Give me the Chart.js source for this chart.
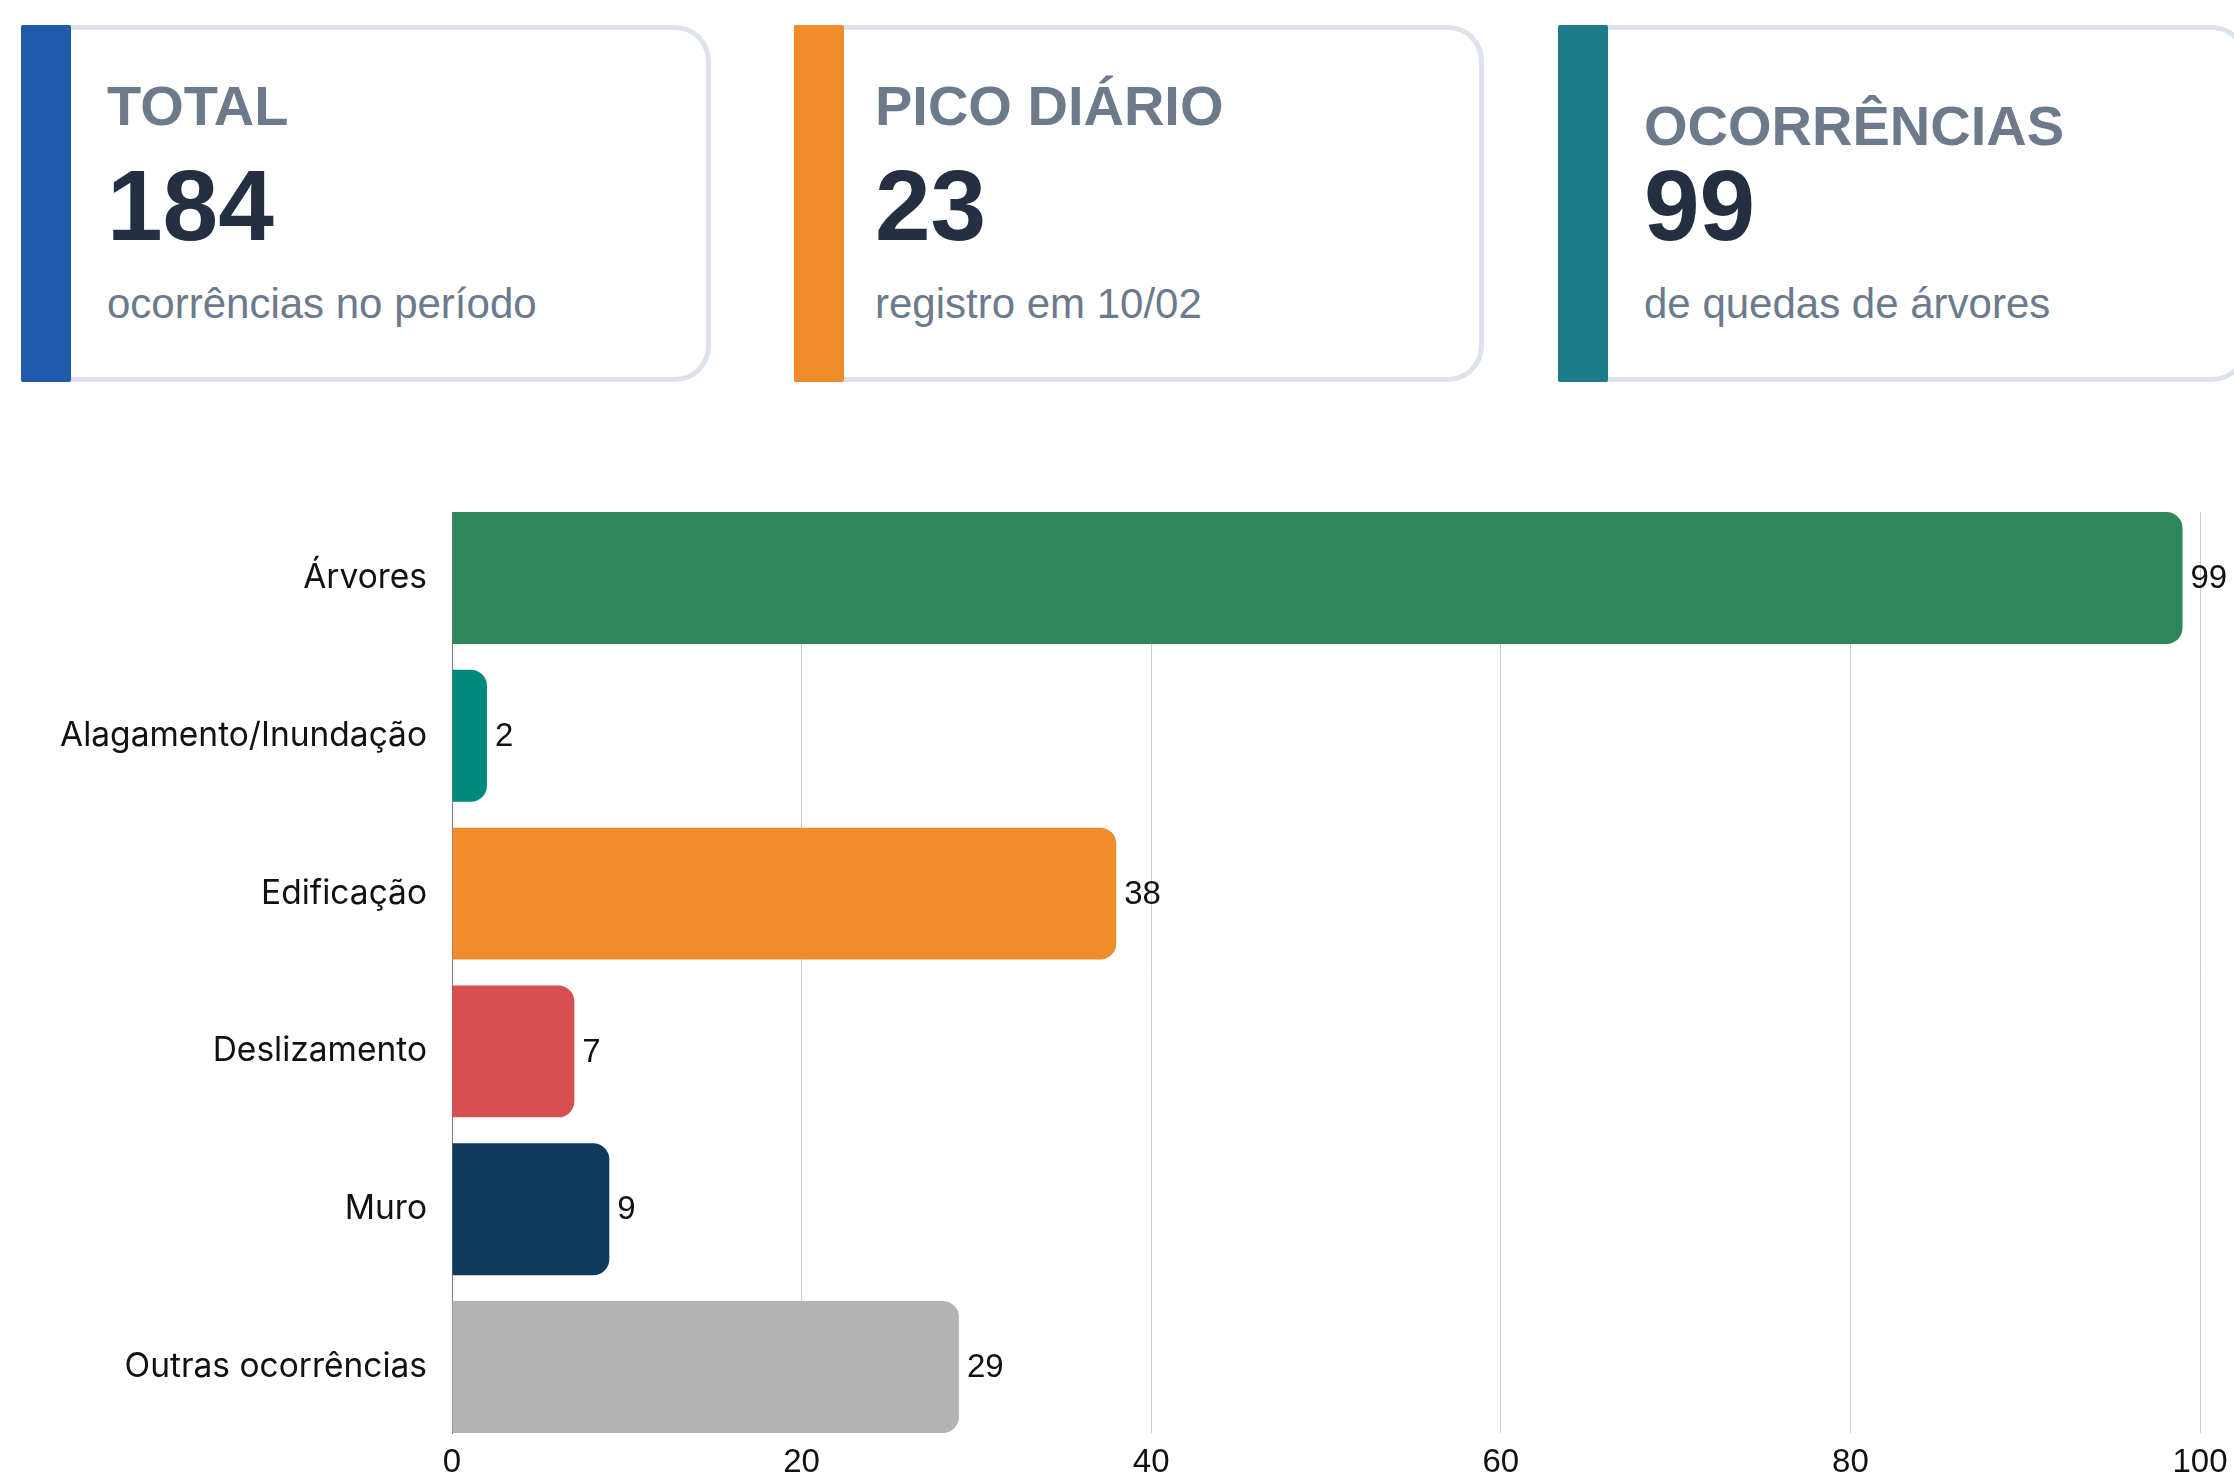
<!DOCTYPE html>
<html>
	<head>
		<meta charset="utf-8">
		<title>Ocorrências</title>
		<script src="https://cdn.jsdelivr.net/npm/chart.js@4.4.0/dist/chart.umd.min.js"></script>
		<style>
			html, body { margin: 0; padding: 0; background: #fff; overflow: hidden; width: 2234px; height: 1481px; }
			body { position: relative; font-family: "Liberation Sans", Arial, sans-serif; }
			.card {
				position: absolute; top: 25px; width: 690px; height: 357px; box-sizing: border-box;
				border: 5px solid #dce3ed; border-left: 0; border-radius: 0 36px 36px 0; background: #fff;
			}
			.card::before {
				content: ""; position: absolute; left: 0; top: -5px; bottom: -5px; width: 50px;
				background: var(--stripe); border-radius: 2px;
			}
			.card .titulo { position: absolute; left: 86px; top: 48px; font-size: 56px; line-height: 1; font-weight: bold; color: #6c7a8b; white-space: nowrap; }
			.card .numero { position: absolute; left: 86px; top: 125px; font-size: 100px; line-height: 1; font-weight: bold; color: #243042; }
			.card .sub { position: absolute; left: 86px; top: 253px; font-size: 42px; line-height: 1; color: #6b7a8c; white-space: nowrap; }
			#c1 { left: 21px; --stripe: #1f5baa; }
			#c2 { left: 794px; --stripe: #f18c2a; }
			#c2 .titulo, #c2 .numero, #c2 .sub { left: 81px; }
			#c3 { left: 1558px; --stripe: #1e7b8a; }
			#c3 .titulo { top: 68px; }
			.chart-box { position: absolute; left: 0; top: 420px; width: 2234px; height: 1061px; }
		</style>
	</head>
	<body>
		<div class="card" id="c1">
			<div class="titulo">TOTAL</div>
			<div class="numero">184</div>
			<div class="sub">ocorrências no período</div>
		</div>
		<div class="card" id="c2">
			<div class="titulo">PICO DIÁRIO</div>
			<div class="numero">23</div>
			<div class="sub">registro em 10/02</div>
		</div>
		<div class="card" id="c3">
			<div class="titulo">OCORRÊNCIAS</div>
			<div class="numero">99</div>
			<div class="sub">de quedas de árvores</div>
		</div>
		<div class="chart-box">
			<canvas id="myChart"></canvas>
		</div>
		<script>
			// dados do gráfico
			const categories = ['Árvores', 'Alagamento/Inundação', 'Edificação', 'Deslizamento', 'Muro', 'Outras ocorrências'];
			const values = [99, 2, 38, 7, 9, 29];
			const barColors = ['#2e865d', '#00897b', '#f18c2a', '#d64f51', '#0f3a5c', '#b3b3b3'];
			const xTicks = [0, 20, 40, 60, 80, 100];

			// rótulos de valor na ponta de cada barra
			const valueLabels = {
				id: 'valueLabels',
				afterDatasetsDraw(chart) {
					const ctx = chart.ctx;
					const meta = chart.getDatasetMeta(0);
					ctx.save();
					ctx.font = '33px "Liberation Sans", Arial, sans-serif';
					ctx.fillStyle = '#111';
					ctx.textAlign = 'left';
					ctx.textBaseline = 'middle';
					meta.data.forEach((bar, i) => {
						ctx.fillText(String(values[i]), bar.x + 8, bar.y + 1);
					});
					ctx.restore();
				}
			};

			var ctx = document.getElementById('myChart').getContext('2d');
			var chart = new Chart(ctx, {
				type: 'bar',
				data: {
					labels: categories,
					datasets: [{
						data: categories.map((c, i) => ({ x: values[i], y: i })),
						backgroundColor: barColors,
						borderRadius: 16,
						borderSkipped: 'start',
						barPercentage: 0.836,
						categoryPercentage: 1
					}]
				},
				options: {
					indexAxis: 'y',
					responsive: true,
					maintainAspectRatio: false,
					animation: false,
					layout: { padding: { top: 92, right: 34, bottom: 0, left: 0 } },
					plugins: {
						legend: { display: false },
						tooltip: { enabled: false }
					},
					scales: {
						x: {
							type: 'linear',
							min: xTicks[0],
							max: xTicks[xTicks.length - 1],
							afterBuildTicks: s => { s.ticks = xTicks.map(v => ({ value: v })); },
							afterFit: s => { s.height = 48; },
							grid: { color: '#cfcfcf', lineWidth: 1, drawTicks: false },
							border: { display: false },
							ticks: {
								padding: 0,
								color: '#111',
								font: { family: '"Liberation Sans", Arial, sans-serif', size: 33, lineHeight: 1.8 }
							}
						},
						y: {
							type: 'linear',
							reverse: true,
							offset: false,
							bounds: 'data',
							min: -0.418,
							max: categories.length - 1 + 0.418,
							afterBuildTicks: s => { s.ticks = categories.map((c, i) => ({ value: i })); },
							afterFit: s => { s.width = 452; },
							grid: { display: false, drawTicks: false, offset: false },
							border: { display: true, color: '#7a7a7a', width: 1 },
							ticks: {
								padding: 25,
								stepSize: 1,
								includeBounds: false,
								color: '#111',
								font: { family: 'Inter, "Noto Sans", sans-serif', size: 33.5 },
								callback: v => categories[v]
							}
						}
					}
				},
				plugins: [valueLabels]
			});
		</script>
	</body>
</html>
